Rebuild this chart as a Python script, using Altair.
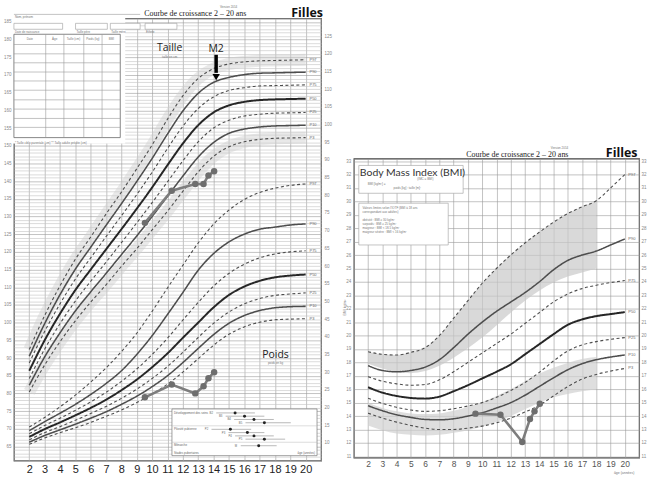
import altair as alt
import pandas as pd

# ---------------- data ----------------
AGES = [2, 3, 4, 5, 6, 7, 8, 9, 10, 11, 12, 13, 14, 15, 16, 17, 18, 19, 20]
PCT_NAMES = ["P3", "P10", "P25", "P50", "P75", "P90", "P97"]

H_P3 = [80.4, 88.0, 94.6, 100.5, 105.8, 110.7, 115.9, 120.9, 126.2, 131.5, 137.1, 142.6, 147.0, 149.7, 151.1, 151.8, 152.1, 152.2, 152.3]
H_P10 = [82.3, 90.3, 97.1, 103.3, 108.7, 113.9, 119.2, 124.5, 130.0, 135.7, 141.4, 146.8, 150.9, 153.5, 154.7, 155.3, 155.6, 155.7, 155.8]
H_P25 = [84.2, 92.5, 99.7, 106.1, 111.7, 117.1, 122.6, 128.2, 133.9, 139.8, 145.7, 151.1, 155.0, 157.2, 158.4, 158.9, 159.2, 159.3, 159.4]
H_P50 = [86.4, 95.0, 102.5, 109.2, 115.0, 120.7, 126.4, 132.2, 138.2, 144.5, 150.6, 155.8, 159.4, 161.4, 162.4, 162.9, 163.1, 163.2, 163.3]
H_P75 = [88.6, 97.5, 105.3, 112.3, 118.3, 124.3, 130.2, 136.2, 142.5, 149.2, 155.5, 160.5, 163.8, 165.6, 166.4, 166.9, 167.0, 167.1, 167.2]
H_P90 = [90.5, 99.7, 107.9, 115.1, 121.3, 127.5, 133.6, 139.9, 146.4, 153.3, 159.8, 164.8, 167.9, 169.3, 170.1, 170.5, 170.6, 170.7, 170.8]
H_P97 = [92.4, 102.0, 110.4, 117.9, 124.2, 130.7, 136.9, 143.5, 150.2, 157.5, 164.1, 169.0, 171.8, 173.1, 173.7, 174.0, 174.1, 174.2, 174.3]

W_P3 = [9.6, 11.4, 12.9, 14.3, 15.8, 17.5, 19.3, 21.4, 23.8, 26.6, 30.0, 33.8, 37.6, 40.7, 42.8, 44.1, 44.8, 45.0, 45.1]
W_P10 = [10.2, 12.1, 13.7, 15.3, 17.0, 18.8, 20.9, 23.2, 25.9, 29.0, 32.7, 36.7, 40.6, 43.8, 46.0, 47.4, 48.2, 48.5, 48.6]
W_P25 = [10.9, 12.9, 14.6, 16.4, 18.3, 20.3, 22.6, 25.2, 28.2, 31.6, 35.6, 39.8, 43.8, 47.0, 49.3, 50.8, 51.7, 52.1, 52.4]
W_P50 = [11.7, 13.9, 15.8, 17.8, 19.9, 22.2, 24.9, 27.9, 31.4, 35.3, 39.7, 44.0, 48.3, 51.8, 54.2, 55.8, 56.8, 57.3, 57.6]
W_P75 = [12.6, 14.9, 17.0, 19.2, 21.6, 24.3, 27.4, 30.9, 35.0, 39.6, 44.7, 49.7, 54.3, 57.9, 60.5, 62.3, 63.4, 64.0, 64.3]
W_P90 = [13.5, 16.0, 18.4, 20.9, 23.7, 26.8, 30.4, 35.0, 40.3, 46.3, 52.5, 58.8, 63.5, 66.8, 69.0, 70.4, 71.0, 71.6, 71.9]
W_P97 = [14.5, 17.2, 20.2, 23.5, 27.2, 31.2, 35.8, 41.0, 47.2, 53.8, 60.2, 66.5, 71.8, 75.8, 78.8, 80.8, 82.0, 82.8, 83.2]

B_P3 = [14.22, 13.85, 13.55, 13.3, 13.1, 13.0, 13.0, 13.1, 13.25, 13.5, 13.85, 14.3, 14.8, 15.5, 16.2, 16.75, 17.1, 17.35, 17.55]
B_P10 = [14.77, 14.4, 14.1, 13.9, 13.75, 13.72, 13.8, 14.0, 14.25, 14.6, 15.0, 15.55, 16.2, 16.85, 17.45, 17.9, 18.2, 18.4, 18.55]
B_P25 = [15.33, 14.95, 14.65, 14.45, 14.35, 14.4, 14.55, 14.75, 15.0, 15.4, 15.9, 16.5, 17.25, 18.1, 18.85, 19.3, 19.55, 19.72, 19.85]
B_P50 = [16.15, 15.75, 15.5, 15.35, 15.3, 15.45, 15.85, 16.3, 16.8, 17.3, 17.85, 18.6, 19.35, 20.1, 20.8, 21.2, 21.45, 21.6, 21.75]
B_P75 = [16.94, 16.6, 16.4, 16.3, 16.35, 16.7, 17.3, 18.0, 18.7, 19.4, 20.1, 20.9, 21.7, 22.5, 23.1, 23.5, 23.75, 23.95, 24.1]
B_P90 = [17.76, 17.4, 17.3, 17.4, 17.65, 18.2, 19.1, 20.1, 21.0, 21.8, 22.5, 23.2, 24.0, 24.9, 25.6, 26.0, 26.3, 26.75, 27.2]
B_P97 = [18.8, 18.6, 18.55, 18.75, 19.1, 20.0, 21.3, 22.6, 23.9, 25.0, 26.0, 26.9, 27.7, 28.45, 29.1, 29.6, 30.05, 31.0, 32.0]

BAND_AGES = [2, 3, 4, 5, 6, 7, 8, 9, 10, 11, 12, 13, 14, 15, 16, 17, 18]
BMI_HIGH_TOP = [18.8, 18.6, 18.55, 18.75, 19.1, 20.0, 21.3, 22.6, 23.9, 25.0, 26.0, 26.9, 27.7, 28.45, 29.1, 29.6, 30.05]
BMI_HIGH_BOT = [17.9, 17.55, 17.3, 17.2, 17.35, 17.75, 18.35, 19.05, 19.85, 20.75, 21.7, 22.6, 23.35, 23.95, 24.4, 24.7, 25.0]
BMI_LOW_TOP = [15.0, 14.6, 14.35, 14.2, 14.15, 14.2, 14.4, 14.7, 15.05, 15.5, 16.0, 16.6, 17.15, 17.6, 17.95, 18.25, 18.4]
BMI_LOW_BOT = [13.3, 12.95, 12.7, 12.6, 12.55, 12.6, 12.75, 12.95, 13.2, 13.55, 14.0, 14.5, 15.0, 15.4, 15.65, 15.85, 16.0]

PAT_AGE = [9.53, 11.28, 12.81, 13.35, 13.67, 14.04]
PAT_HEIGHT = [128.2, 137.3, 139.2, 139.2, 141.6, 142.8]
PAT_WEIGHT = [22.9, 26.5, 24.0, 26.0, 28.3, 30.0]
PAT_BMI = [14.18, 14.10, 12.07, 13.78, 14.35, 14.92]

STAGE_NAMES = ["B2", "B3", "B4", "B5", "P2", "P3", "P4", "P5", "M"]
STAGE_MED = [10.9, 11.9, 12.9, 14.0, 10.4, 12.2, 12.9, 14.0, 13.4]
STAGE_LO = [8.9, 9.9, 10.8, 12.0, 8.4, 10.2, 10.9, 12.0, 11.5]
STAGE_HI = [13.0, 14.0, 15.0, 16.8, 12.6, 14.0, 15.0, 16.2, 15.3]
STAGE_ROW = [0, 1, 2, 3, 5, 6, 7, 8, 10]

# ---------------- tables ----------------
def long_curves(series, col):
    rows = []
    for name, vals in zip(PCT_NAMES, series):
        style = "thick" if name == "P50" else ("solid" if name in ("P10", "P90") else "dashed")
        for a, v in zip(AGES, vals):
            rows.append({"age": a, col: v, "pct": name, "style": style})
    return pd.DataFrame(rows)

h_df = long_curves([H_P3, H_P10, H_P25, H_P50, H_P75, H_P90, H_P97], "h")
w_df = long_curves([W_P3, W_P10, W_P25, W_P50, W_P75, W_P90, W_P97], "w")
b_df = long_curves([B_P3, B_P10, B_P25, B_P50, B_P75, B_P90, B_P97], "b")

def ends(df):
    e = df[df["age"] == 20].copy()
    e["age"] = 20.25
    return e

h_end, w_end, b_end = ends(h_df), ends(w_df), ends(b_df)

pat_h = pd.DataFrame({"age": PAT_AGE, "h": PAT_HEIGHT})
pat_w = pd.DataFrame({"age": PAT_AGE, "w": PAT_WEIGHT})
pat_b = pd.DataFrame({"age": PAT_AGE, "b": PAT_BMI})

band_hi = pd.DataFrame({"age": BAND_AGES, "b": BMI_HIGH_BOT, "hi": BMI_HIGH_TOP})
band_lo = pd.DataFrame({"age": BAND_AGES, "b": BMI_LOW_BOT, "hi": BMI_LOW_TOP})

stage_df = pd.DataFrame({"stage": STAGE_NAMES, "med": STAGE_MED, "lo": STAGE_LO,
                         "hi": STAGE_HI, "row": STAGE_ROW})

# ---------------- scales & axes ----------------
X_DOM = [1, 21]
H_DOM = [61, 186]
W_DOM = [5, 130]
B_DOM = [10.9, 33.2]
LW, LH = 309, 445
RW, RH = 287, 301

X_GRID = [1 + 0.25 * i for i in range(81)]
H_GRID = list(range(61, 187))
B_GRID = [11 + 0.25 * i for i in range(89)]

MAJOR, MINOR = "#9a9a9a", "#c2c2c2"

def x_axis(size, color, pad):
    return alt.Axis(values=X_GRID, format="d",
                    labelExpr="(datum.value >= 2 && datum.value <= 20 && datum.value % 1 === 0) ? datum.label : ''",
                    grid=True,
                    gridColor={"condition": {"test": "datum.value % 1 === 0", "value": MAJOR}, "value": MINOR},
                    gridWidth=0.6, ticks=False, domain=False, labelFontSize=size, labelColor=color,
                    labelFont="Liberation Sans", labelPadding=pad, labelOverlap=False, labelFlush=False,
                    title=None)

AX_XL = x_axis(11, "#222", 3)
AX_XB = x_axis(8.5, "#555", 2)
AX_H = alt.Axis(values=H_GRID, format="d", orient="left",
                labelExpr="(datum.value % 5 === 0 && datum.value >= 65 && datum.value <= 185) ? datum.label : ''",
                grid=True,
                gridColor={"condition": {"test": "datum.value % 5 === 0", "value": MAJOR}, "value": MINOR},
                gridWidth=0.6, ticks=False, domain=False, labelFontSize=4.5, labelColor="#888",
                labelPadding=3, labelOverlap=False, minExtent=13, maxExtent=13, title=None)
AX_W = alt.Axis(values=list(range(10, 130, 5)), format="d", orient="right", grid=False, ticks=False,
                domain=False, labelFontSize=4.5, labelColor="#888", labelPadding=3, labelOverlap=False,
                minExtent=13, maxExtent=13, title=None)
AX_BL = alt.Axis(values=B_GRID, format="d", orient="left",
                 labelExpr="datum.value % 1 === 0 ? datum.label : ''",
                 grid=True,
                 gridColor={"condition": {"test": "datum.value % 1 === 0", "value": MAJOR}, "value": MINOR},
                 gridWidth=0.6, ticks=False, domain=False, labelFontSize=4.5, labelColor="#888",
                 labelPadding=3, labelOverlap=False, minExtent=14, maxExtent=14, title=None)
AX_BR = alt.Axis(values=list(range(11, 34)), format="d", orient="right", grid=False, ticks=False,
                 domain=False, labelFontSize=4.5, labelColor="#888", labelPadding=2, labelOverlap=False,
                 minExtent=8, maxExtent=8, title=None)

XS = alt.Scale(domain=X_DOM, nice=False, zero=False)
xL = alt.X("age:Q", scale=XS, axis=AX_XL)
xB = alt.X("age:Q", scale=XS, axis=AX_XB)
yH = alt.Y("h:Q", scale=alt.Scale(domain=H_DOM, nice=False, zero=False), axis=AX_H)
yW = alt.Y("w:Q", scale=alt.Scale(domain=W_DOM, nice=False, zero=False), axis=AX_W)
yB = alt.Y("b:Q", scale=alt.Scale(domain=B_DOM, nice=False, zero=False), axis=AX_BL)
yBR = alt.Y("b:Q", scale=alt.Scale(domain=B_DOM, nice=False, zero=False), axis=AX_BR)

STYLES = ["thick", "solid", "dashed"]
def style_enc():
    return dict(
        strokeDash=alt.StrokeDash("style:N", scale=alt.Scale(domain=STYLES, range=[[1, 0], [1, 0], [3, 2.5]]), legend=None),
        strokeWidth=alt.StrokeWidth("style:N", scale=alt.Scale(domain=STYLES, range=[2.0, 1.1, 1.1]), legend=None),
        color=alt.Color("style:N", scale=alt.Scale(domain=STYLES, range=["#262626", "#4d4d4d", "#4d4d4d"]), legend=None),
        detail="pct:N",
    )

def curve_layers(df, end, pat, x, y):
    lines = alt.Chart(df).mark_line(interpolate="monotone").encode(x=x, y=y, **style_enc())
    labels = alt.Chart(end).mark_text(align="left", fontSize=4, color="#666").encode(x=x, y=y, text="pct:N")
    pline = alt.Chart(pat).mark_line(color="#7d7d7d", strokeWidth=2.6).encode(x=x, y=y)
    ppts = alt.Chart(pat).mark_circle(size=42, color="#6e6e6e", opacity=1).encode(x=x, y=y)
    return [lines, labels, pline, ppts]

def pix():
    return dict(x=alt.X("px:Q", scale=None, axis=None), y=alt.Y("py:Q", scale=None, axis=None))

def ptext(items, size, align="center", color="#333", font="Liberation Sans", weight="normal", angle=0):
    df = pd.DataFrame(items, columns=["px", "py", "t"])
    return alt.Chart(df).mark_text(fontSize=size, align=align, baseline="middle", color=color, font=font,
                                   fontWeight=weight, angle=angle).encode(text="t:N", **pix())

def prect(items, fill="white", stroke="#888", sw=0.7):
    df = pd.DataFrame(items, columns=["px", "px2", "py", "py2"])
    return alt.Chart(df).mark_rect(fill=fill, stroke=stroke, strokeWidth=sw).encode(
        x2=alt.X2("px2:Q"), y2=alt.Y2("py2:Q"), **pix())

def prule(items, color="#999", sw=0.6):
    df = pd.DataFrame(items, columns=["px", "px2", "py", "py2"])
    return alt.Chart(df).mark_rule(color=color, strokeWidth=sw).encode(
        x2=alt.X2("px2:Q"), y2=alt.Y2("py2:Q"), **pix())

# ---------------- left panel: Taille / Poids ----------------
haze = alt.Chart(h_df).transform_filter("datum.pct === 'P97' || datum.pct === 'P3'").mark_line(
    interpolate="monotone", color="#cfcfcf", strokeWidth=12, opacity=0.45).encode(x=xL, y=yH, detail="pct:N")

ann = pd.DataFrame({"age": [11.14, 14.17, 18.04], "h": [177.6, 177.3, 90.9], "t": ["Taille", "M2", "Poids"]})
ann_sub = pd.DataFrame({"age": [11.14, 18.04], "h": [175.0, 88.6], "t": ["taille en cm", "poids en kg"]})
arrow = pd.DataFrame({"age": [14.17], "h": [175.7], "h2": [170.6]})
arrow_head = pd.DataFrame({"age": [14.17], "h": [169.4]})

height_group = alt.layer(
    haze,
    *curve_layers(h_df, h_end, pat_h, xL, yH),
    alt.Chart(ann).mark_text(fontSize=10.5, font="Open Sans", color="#222").encode(x=xL, y=yH, text="t:N"),
    alt.Chart(ann_sub).mark_text(fontSize=3, color="#777").encode(x=xL, y=yH, text="t:N"),
    alt.Chart(arrow).mark_rule(color="black", strokeWidth=3.5).encode(x=xL, y=yH, y2="h2:Q"),
    alt.Chart(arrow_head).mark_point(shape="triangle-down", filled=True, size=55, color="black", opacity=1).encode(x=xL, y=yH),
)
weight_group = alt.layer(*curve_layers(w_df, w_end, pat_w, xL, yW))
left_main = alt.layer(height_group, weight_group).resolve_scale(y="independent")

left_deco = alt.layer(
    prect([(-1, 112, -1, 126)], stroke="white", sw=0),
    prule([(0, 127, -4, -4)]),
    prect([(0, 49, 5, 11), (62, 94, 5, 11), (97, 127, 5, 11), (132, 164, 5, 11)], stroke="#999", sw=0.6),
    ptext([(1, -1.5, "Nom, prénom"), (1, 14, "Date de naissance"), (63, 14, "Taille père"),
           (98, 14, "Taille mère"), (133, 14, "Ethnie")], 3, align="left", color="#777"),
    prect([(0, 107, 16, 120)], stroke="#666", sw=0.8),
    prule([(0, 107, y, y) for y in [26.3, 35.7, 44.7, 54, 63, 72.3, 82, 91.3, 100.7, 109.7]], color="#999"),
    prule([(x, x, 16, 120) for x in [32, 50.3, 70.3, 88.7]], color="#999"),
    ptext([(16, 21, "Date"), (41, 21, "Âge"), (60, 21, "Taille (cm)"), (79.5, 21, "Poids (kg)"),
           (98, 21, "BMI")], 3, color="#777"),
    ptext([(1, 125, "* Taille cible parentale (cm)  ** Taille adulte prédite (cm)")], 3, align="left", color="#777"),
    ptext([(182.5, -4, "Courbe de croissance 2 – 20 ans")], 8, font="Liberation Serif", color="#222"),
    ptext([(216, -11, "Version 2014")], 3, color="#777"),
    ptext([(295, -5, "Filles")], 12.5, font="Open Sans", weight="bold", color="#111"),
    prect([(159, 305, 393, 440)], stroke="#777", sw=0.7),
    prule([(159, 305, 410, 410), (159, 305, 426.5, 426.5)], color="#bbb", sw=0.5),
    ptext([(161, 397, "Développement des seins"), (161, 413, "Pilosité pubienne"),
           (161, 429.5, "Ménarche"), (161, 437, "Stades pubertaires")], 3, align="left", color="#666"),
    ptext([(303, 437, "âge (années)")], 3, align="right", color="#666"),
)

xi = alt.Scale(domain=[8, 18], range=[195, 290])
yi = alt.Scale(domain=[0, 10], range=[397, 430])
inset_group = alt.layer(
    alt.Chart(stage_df).mark_rule(color="#888", strokeWidth=0.6).encode(
        x=alt.X("lo:Q", scale=xi, axis=None), x2="hi:Q", y=alt.Y("row:Q", scale=yi, axis=None)),
    alt.Chart(stage_df).mark_circle(size=9, color="#222", opacity=1).encode(
        x=alt.X("med:Q", scale=xi, axis=None), y=alt.Y("row:Q", scale=yi, axis=None)),
    alt.Chart(stage_df).mark_text(fontSize=2.8, color="#666", dx=-5).encode(
        x=alt.X("lo:Q", scale=xi, axis=None), y=alt.Y("row:Q", scale=yi, axis=None), text="stage:N"),
)

left = alt.layer(left_main, left_deco, inset_group).resolve_scale(
    x="independent", y="independent").properties(width=LW, height=LH)

# ---------------- right panel: BMI ----------------
bmi_main = alt.layer(
    alt.Chart(band_hi).mark_area(interpolate="monotone", color="#c9c9c9", opacity=0.7).encode(
        x=xB, y=yB, y2="hi:Q"),
    alt.Chart(band_lo).mark_area(interpolate="monotone", color="#d0d0d0", opacity=0.7).encode(
        x=xB, y=yB, y2="hi:Q"),
    *curve_layers(b_df, b_end, pat_b, xB, yB),
    prect([(5, 110, 7, 35), (5, 95, 45, 87)], stroke="#aaa", sw=0.7),
    ptext([(59, 14.5, "Body Mass Index (BMI)")], 10.5, font="Lato", color="#333"),
    ptext([(72, 20.5, "(IMC = BMI)")], 3, color="#777"),
    ptext([(14, 25.5, "BMI [kg/m²] ="), (40, 30, "poids [kg] : taille [m]²")], 3, align="left", color="#777"),
    ptext([(8.7, 50, "Valeurs limites selon l'IOTF (BMI à 18 ans"), (8.7, 54, "correspondant aux adultes)"),
           (8.7, 62, "obésité : BMI ≥ 30 kg/m²"), (8.7, 66, "surpoids : BMI ≥ 25 kg/m²"),
           (8.7, 70, "maigreur : BMI < 18.5 kg/m²"), (8.7, 74, "maigreur sévère : BMI < 16 kg/m²")],
          3, align="left", color="#777"),
    ptext([(164.5, -4, "Courbe de croissance 2 – 20 ans")], 8, font="Liberation Serif", color="#222"),
    ptext([(207, -11, "Version 2014")], 3, color="#777"),
    ptext([(269.5, -6, "Filles")], 12.5, font="Open Sans", weight="bold", color="#111"),
    ptext([(-9, 150, "BMI kg/m²")], 3.5, color="#777", angle=270),
    ptext([(272, 316, "âge (années)")], 3.5, color="#777"),
)
bmi_right = alt.Chart(b_end).mark_text(opacity=0).encode(x=xB, y=yBR, text="pct:N")
bmi = alt.layer(bmi_main, bmi_right).resolve_scale(y="independent").properties(width=RW, height=RH)

spacer = alt.Chart(pd.DataFrame({"a": [0]})).mark_point(opacity=0).encode(
    x=alt.value(0), y=alt.value(0)).properties(width=RW, height=127,
                                               view=alt.ViewBackground(stroke="transparent"))

right = alt.vconcat(spacer, bmi, spacing=0)

chart = alt.hconcat(left, right, spacing=4).properties(
    padding={"left": 0, "top": 4, "right": 0, "bottom": 0}, background="white"
).configure_view(stroke="#444", strokeWidth=1.2)

chart.save("out.html", embed_options={"renderer": "svg", "actions": False})
